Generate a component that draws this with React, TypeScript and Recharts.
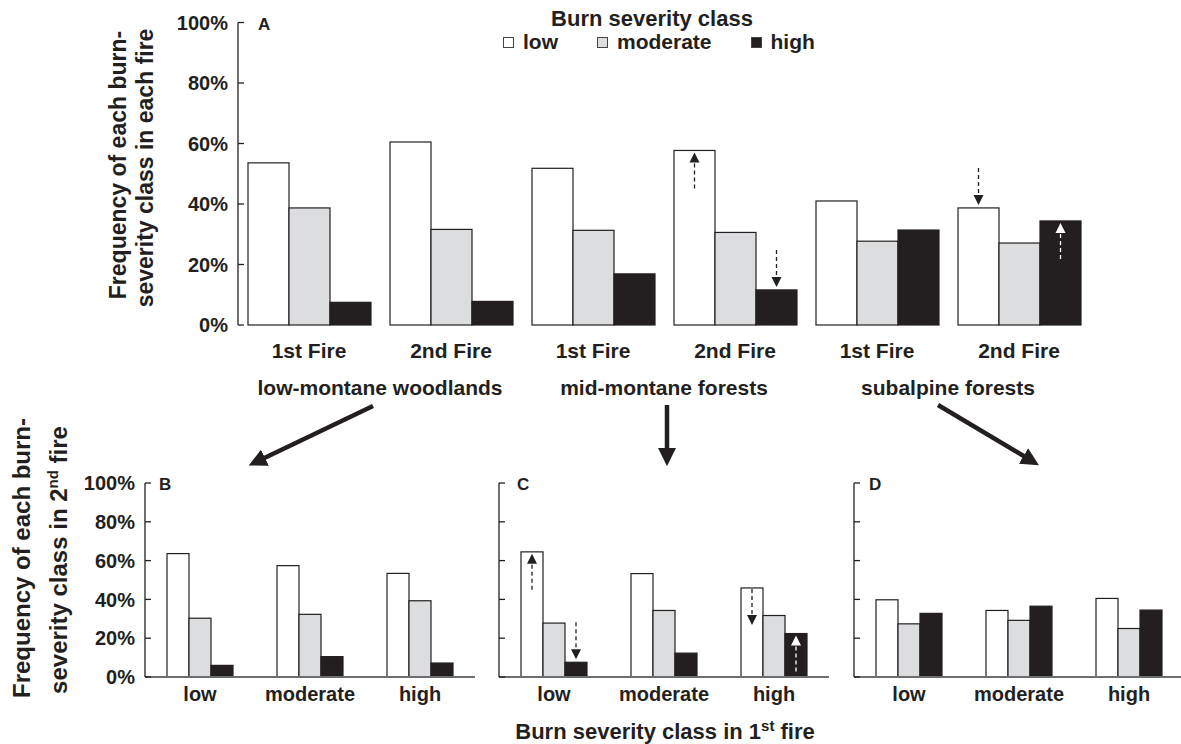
import { BarChart, Bar, XAxis, YAxis, Legend } from 'recharts';

// ---- data ----
const fireLabels = ['1st Fire', '2nd Fire', '1st Fire', '2nd Fire', '1st Fire', '2nd Fire'];
const forestTypes = ['low-montane woodlands', 'low-montane woodlands', 'mid-montane forests', 'mid-montane forests', 'subalpine forests', 'subalpine forests'];
const lowA = [53.6, 60.5, 51.8, 57.7, 41.0, 38.7];
const moderateA = [38.7, 31.6, 31.3, 30.6, 27.7, 27.1];
const highA = [7.5, 7.8, 16.9, 11.6, 31.4, 34.4];

const firstFireClasses = ['low', 'moderate', 'high'];
const lowB = [63.6, 57.4, 53.4];
const moderateB = [30.3, 32.3, 39.3];
const highB = [6.0, 10.5, 7.2];
const lowC = [64.5, 53.3, 45.9];
const moderateC = [27.8, 34.3, 31.7];
const highC = [7.6, 12.3, 22.4];
const lowD = [39.8, 34.3, 40.5];
const moderateD = [27.4, 29.2, 25.0];
const highD = [32.8, 36.5, 34.5];

const pctTicks = [0, 20, 40, 60, 80, 100];

// dashed change arrows drawn on individual bars
const arrowsA = [
  { index: 3, series: 'low', kind: 'riseInside' },
  { index: 3, series: 'high', kind: 'dropAbove' },
  { index: 5, series: 'low', kind: 'dropAbove' },
  { index: 5, series: 'high', kind: 'riseInside' },
];
const arrowsC = [
  { index: 0, series: 'low', kind: 'riseInside' },
  { index: 0, series: 'high', kind: 'dropAbove' },
  { index: 2, series: 'low', kind: 'dropInside' },
  { index: 2, series: 'high', kind: 'riseInside' },
];

const series = [
  { key: 'low', fill: '#ffffff' },
  { key: 'moderate', fill: '#dcdddf' },
  { key: 'high', fill: '#231f20' },
];

const INK = '#231f20';
const FONT = '"Liberation Sans", Arial, sans-serif';
const TICK_GAP = 10;

const dataA = fireLabels.map((fire, i) => ({
  fire,
  forest: forestTypes[i],
  low: lowA[i],
  moderate: moderateA[i],
  high: highA[i],
}));

const build = (low: number[], moderate: number[], high: number[]) =>
  firstFireClasses.map((c, i) => ({ cls: c, low: low[i], moderate: moderate[i], high: high[i] }));

const dataB = build(lowB, moderateB, highB);
const dataC = build(lowC, moderateC, highC);
const dataD = build(lowD, moderateD, highD);

function DashedArrow({ cx, top, kind, color }: any) {
  let tail = top + 38;
  let tip = top + 2;
  if (kind === 'dropAbove') {
    tail = top - 40;
    tip = top - 3;
  } else if (kind === 'dropInside') {
    tail = top + 1;
    tip = top + 37;
  }
  const dir = tip < tail ? -1 : 1;
  const headLen = 10;
  const base = tip - dir * headLen;
  return (
    <g>
      <line x1={cx} x2={cx} y1={tail} y2={base} stroke={color} strokeWidth={1.3} strokeDasharray="4 3" />
      <polygon points={`${cx},${tip} ${cx - 5},${base} ${cx + 5},${base}`} fill={color} />
    </g>
  );
}

function makeShape(seriesKey: string, arrows: any[]) {
  return (props: any) => {
    const { x, y, width, height, fill, index } = props;
    const a = arrows.find((r) => r.index === index && r.series === seriesKey);
    const onDark = a && seriesKey === 'high' && a.kind !== 'dropAbove';
    return (
      <g>
        <rect x={x} y={y} width={width} height={height} fill={fill} stroke={INK} strokeWidth={1.2} />
        {a && <DashedArrow cx={x + width / 2} top={y} kind={a.kind} color={onDark ? '#ffffff' : INK} />}
      </g>
    );
  };
}

function YTick(props: any) {
  const { x, y, payload, showLabel } = props;
  const ax = x + TICK_GAP;
  return (
    <g>
      <line x1={ax} x2={ax + 6} y1={y} y2={y} stroke={INK} strokeWidth={1.3} />
      {showLabel && (
        <text x={x} y={y} dy="0.36em" textAnchor="end" fontSize={20} fontWeight="bold" fill={INK}>
          {payload.value}%
        </text>
      )}
    </g>
  );
}

function LegendContent() {
  return (
    <div style={{ display: 'flex', alignItems: 'center', fontSize: 21, fontWeight: 'bold', color: INK }}>
      {series.map((s) => (
        <div key={s.key} style={{ display: 'flex', alignItems: 'center', marginRight: 39 }}>
          <span
            style={{
              display: 'inline-block',
              width: 9,
              height: 9,
              background: s.fill,
              border: '1px solid #444',
              marginRight: 9,
            }}
          />
          <span>{s.key}</span>
        </div>
      ))}
    </div>
  );
}

function SmallPanel({ data, arrows, showLabels, left, marginLeft }: any) {
  return (
    <div style={{ position: 'absolute', left, top: 440 }}>
      <BarChart
        width={400 + marginLeft}
        height={280}
        data={data}
        margin={{ top: 43, right: 11, bottom: 13, left: marginLeft }}
        barSize={22}
        barGap={0}
      >
        <XAxis
          dataKey="cls"
          height={30}
          tickSize={0}
          tickMargin={10}
          tickLine={false}
          axisLine={{ stroke: '#6d6e70', strokeWidth: 2 }}
          tick={{ fontSize: 20, fontWeight: 'bold', fill: INK }}
        />
        <YAxis
          width={59}
          domain={[0, 100]}
          ticks={pctTicks}
          interval={0}
          tickSize={0}
          tickMargin={TICK_GAP}
          tickLine={false}
          axisLine={{ stroke: INK, strokeWidth: 1.3 }}
          tick={(p: any) => <YTick {...p} showLabel={showLabels} />}
        />
        {series.map((s) => (
          <Bar
            key={s.key}
            dataKey={s.key}
            fill={s.fill}
            isAnimationActive={false}
            shape={makeShape(s.key, arrows)}
          />
        ))}
      </BarChart>
    </div>
  );
}

export default function App() {
  return (
    <div
      style={{
        position: 'absolute',
        left: 0,
        top: 0,
        width: 1181,
        height: 744,
        overflow: 'hidden',
        background: '#fff',
        fontFamily: FONT,
        color: INK,
      }}
    >
      <div style={{ position: 'absolute', left: 0, top: 0 }}>
        <BarChart
          width={1181}
          height={420}
          data={dataA}
          margin={{ top: 22.5, right: 91, bottom: 17, left: 178 }}
          barSize={41}
          barGap={0}
        >
          <XAxis
            dataKey="fire"
            height={38}
            tickSize={0}
            tickMargin={18}
            axisLine={false}
            tickLine={false}
            interval={0}
            tick={{ fontSize: 21, fontWeight: 'bold', fill: INK }}
          />
          <XAxis
            xAxisId="forest"
            dataKey="forest"
            allowDuplicatedCategory={false}
            height={40}
            tickSize={0}
            tickMargin={17}
            axisLine={false}
            tickLine={false}
            interval={0}
            tick={{ fontSize: 21, fontWeight: 'bold', fill: INK }}
          />
          <YAxis
            width={60}
            domain={[0, 100]}
            ticks={pctTicks}
            interval={0}
            tickSize={0}
            tickMargin={TICK_GAP}
            tickLine={false}
            axisLine={{ stroke: INK, strokeWidth: 1.3 }}
            tick={(p: any) => <YTick {...p} showLabel={true} />}
          />
          <Legend
            layout="horizontal"
            verticalAlign="middle"
            align="center"
            wrapperStyle={{ position: 'absolute', left: 503, top: 30, width: 360 }}
            content={() => <LegendContent />}
          />
          {series.map((s) => (
            <Bar
              key={s.key}
              dataKey={s.key}
              name={s.key}
              fill={s.fill}
              isAnimationActive={false}
              shape={makeShape(s.key, arrowsA)}
            />
          ))}
        </BarChart>
      </div>

      <SmallPanel data={dataB} arrows={[]} showLabels={true} left={0} marginLeft={86} />
      <SmallPanel data={dataC} arrows={arrowsC} showLabels={false} left={440} marginLeft={0} />
      <SmallPanel data={dataD} arrows={[]} showLabels={false} left={795} marginLeft={0} />

      <svg
        width={1181}
        height={744}
        style={{ position: 'absolute', left: 0, top: 0, pointerEvents: 'none' }}
        fontFamily={FONT}
        fontWeight="bold"
        fill={INK}
      >
        <defs>
          <marker id="head" markerWidth="4" markerHeight="4" refX="2.2" refY="2" orient="auto" markerUnits="strokeWidth">
            <path d="M0,0 L4,2 L0,4 z" fill={INK} />
          </marker>
        </defs>
        <text x={652} y={26} textAnchor="middle" fontSize={22}>Burn severity class</text>

        <text x={258} y={30} fontSize={17}>A</text>
        <text x={159} y={490} fontSize={17}>B</text>
        <text x={517} y={490} fontSize={17}>C</text>
        <text x={869} y={490} fontSize={17}>D</text>

        <text transform="translate(126,165) rotate(-90)" textAnchor="middle" fontSize={23}>Frequency of each burn-</text>
        <text transform="translate(153,168) rotate(-90)" textAnchor="middle" fontSize={23}>severity class in each fire</text>

        <text transform="translate(30,558) rotate(-90)" textAnchor="middle" fontSize={24}>Frequency of each burn-</text>
        <text transform="translate(67,560) rotate(-90)" textAnchor="middle" fontSize={24}>
          severity class in 2<tspan dy={-9} fontSize={15}>nd</tspan><tspan dy={9}> fire</tspan>
        </text>

        <text x={665} y={739} textAnchor="middle" fontSize={22}>
          Burn severity class in 1<tspan dy={-8} fontSize={15}>st</tspan><tspan dy={8}> fire</tspan>
        </text>

        <g stroke={INK} strokeWidth={4.5}>
          <line x1={373} y1={406} x2={256} y2={462} markerEnd="url(#head)" />
          <line x1={667} y1={405} x2={667} y2={458} markerEnd="url(#head)" />
          <line x1={938} y1={405} x2={1032} y2={461} markerEnd="url(#head)" />
        </g>
      </svg>
    </div>
  );
}
